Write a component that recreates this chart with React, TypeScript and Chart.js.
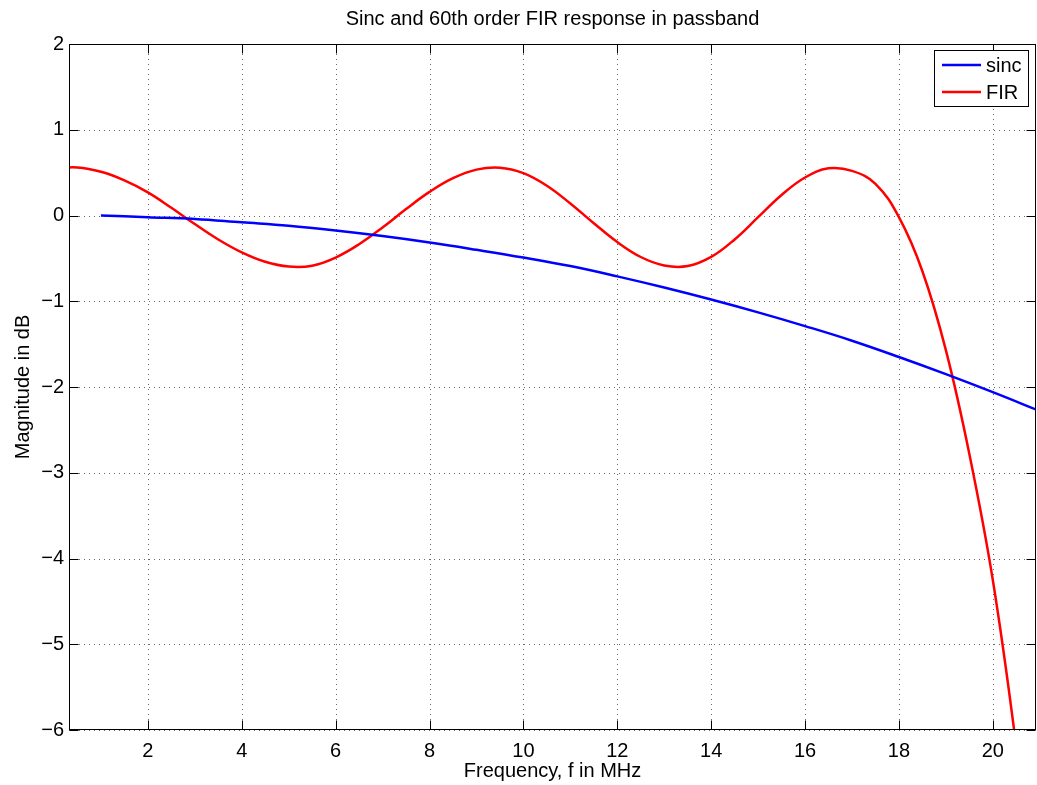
import React, { useEffect, useRef } from "react";
import { Chart, registerables } from "chart.js";

Chart.register(...registerables);

const titleText = "Sinc and 60th order FIR response in passband";
const xTitle = "Frequency, f in MHz";
const yTitle = "Magnitude in dB";

const xTicks = [2, 4, 6, 8, 10, 12, 14, 16, 18, 20];
const yTicks = [-6, -5, -4, -3, -2, -1, 0, 1, 2];

const sincFreq = [1, 2, 3, 4, 5, 6, 7, 8, 9, 10, 11, 12, 13, 14, 15, 16, 17, 18, 19, 20, 21];
const sincDb = [0.0, -0.02, -0.04, -0.08, -0.12, -0.175, -0.24, -0.315, -0.4, -0.49, -0.59, -0.71, -0.84, -0.98, -1.13, -1.29, -1.46, -1.65, -1.85, -2.06, -2.28];

const firFreq = [0, 0.5, 1, 1.5, 2, 2.5, 3, 3.5, 4, 4.5, 5, 5.5, 6, 6.5, 7, 7.5, 8, 8.5, 9, 9.5, 10, 10.5, 11, 11.5, 12, 12.5, 13, 13.5, 14, 14.5, 15, 15.5, 16, 16.5, 17, 17.5, 18, 18.5, 19, 19.5, 20, 20.5, 21];
const firDb = [0.55, 0.56, 0.51, 0.41, 0.27, 0.09, -0.1, -0.28, -0.43, -0.54, -0.595, -0.585, -0.49, -0.335, -0.14, 0.075, 0.275, 0.435, 0.535, 0.558, 0.494, 0.347, 0.14, -0.09, -0.31, -0.484, -0.583, -0.59, -0.483, -0.279, -0.02, 0.239, 0.443, 0.55, 0.52, 0.37, -0.02, -0.65, -1.57, -2.78, -4.25, -6.2, -8.6];

const seriesNames = ["sinc", "FIR"];
const seriesColors = ["#0000ff", "#ff0000"];

const FONT = "'Liberation Sans', Arial, Helvetica, sans-serif";

const decorPlugin = {
  id: "decor",
  beforeDatasetsDraw(chart: any) {
    const { ctx, chartArea: a, scales } = chart;
    const xs = scales.x;
    const ys = scales.y;
    ctx.save();
    ctx.strokeStyle = "#6a6a6a";
    ctx.lineWidth = 1;
    ctx.setLineDash([1, 4]);
    for (const v of xTicks) {
      const px = Math.round(xs.getPixelForValue(v)) + 0.5;
      ctx.beginPath();
      ctx.moveTo(px, a.top);
      ctx.lineTo(px, a.bottom);
      ctx.stroke();
    }
    for (const v of yTicks) {
      const py = Math.round(ys.getPixelForValue(v)) + 0.5;
      ctx.beginPath();
      ctx.moveTo(a.left, py);
      ctx.lineTo(a.right, py);
      ctx.stroke();
    }
    ctx.restore();
  },
  afterDatasetsDraw(chart: any) {
    const { ctx, chartArea: a, scales } = chart;
    const xs = scales.x;
    const ys = scales.y;
    ctx.save();
    ctx.setLineDash([]);
    ctx.strokeStyle = "#000";
    ctx.lineWidth = 1;
    const L = Math.round(a.left) + 0.5;
    const R = Math.round(a.right) - 0.5;
    const T = Math.round(a.top) + 0.5;
    const B = Math.round(a.bottom) - 0.5;
    ctx.strokeRect(L, T, R - L, B - T);
    const tl = 9;
    ctx.beginPath();
    for (const v of xTicks) {
      const px = Math.round(xs.getPixelForValue(v)) + 0.5;
      ctx.moveTo(px, B);
      ctx.lineTo(px, B - tl);
      ctx.moveTo(px, T);
      ctx.lineTo(px, T + tl);
    }
    for (const v of yTicks) {
      const py = Math.round(ys.getPixelForValue(v)) + 0.5;
      ctx.moveTo(L, py);
      ctx.lineTo(L + tl, py);
      ctx.moveTo(R, py);
      ctx.lineTo(R - tl, py);
    }
    ctx.stroke();

    // title and axis titles
    ctx.fillStyle = "#000";
    ctx.font = `20px ${FONT}`;
    ctx.textAlign = "center";
    ctx.textBaseline = "alphabetic";
    const cx = (a.left + a.right) / 2;
    ctx.fillText(titleText, cx, 25);
    ctx.fillText(xTitle, cx, 777);
    ctx.save();
    ctx.translate(29, (a.top + a.bottom) / 2);
    ctx.rotate(-Math.PI / 2);
    ctx.fillText(yTitle, 0, 0);
    ctx.restore();

    // legend
    const bx = 934.5, by = 50.5, bw = 94, bh = 56;
    ctx.fillStyle = "#fff";
    ctx.fillRect(bx, by, bw, bh);
    ctx.strokeStyle = "#000";
    ctx.lineWidth = 1;
    ctx.strokeRect(bx, by, bw, bh);
    const rows = [65, 92];
    seriesNames.forEach((name, i) => {
      ctx.strokeStyle = seriesColors[i];
      ctx.lineWidth = 2.5;
      ctx.beginPath();
      ctx.moveTo(942, rows[i]);
      ctx.lineTo(981, rows[i]);
      ctx.stroke();
      ctx.fillStyle = "#000";
      ctx.textAlign = "left";
      ctx.textBaseline = "middle";
      ctx.font = `20px ${FONT}`;
      ctx.fillText(name, 986, rows[i] + 1);
    });
    ctx.restore();
  },
};

export default function App() {
  const ref = useRef<HTMLCanvasElement | null>(null);
  useEffect(() => {
    document.body.style.margin = "0";
    const canvas = ref.current!;
    const chart = new Chart(canvas, {
      type: "line",
      data: {
        datasets: [
          {
            label: seriesNames[0],
            data: sincFreq.map((f, i) => ({ x: f, y: sincDb[i] })),
            borderColor: seriesColors[0],
            borderWidth: 2.5,
            pointRadius: 0,
            tension: 0.4,
            fill: false,
          },
          {
            label: seriesNames[1],
            data: firFreq.map((f, i) => ({ x: f, y: firDb[i] })),
            borderColor: seriesColors[1],
            borderWidth: 2.5,
            pointRadius: 0,
            tension: 0.4,
            fill: false,
          },
        ],
      },
      options: {
        responsive: false,
        animation: false,
        events: [],
        layout: { padding: { top: 44, right: 1, left: 0, bottom: 0 } },
        plugins: {
          legend: { display: false },
          title: { display: false },
          tooltip: { enabled: false },
        },
        scales: {
          x: {
            type: "linear",
            min: 0.32,
            max: 20.92,
            grid: { display: false, drawTicks: false },
            border: { display: false },
            afterBuildTicks: (s: any) => {
              s.ticks = xTicks.map((v) => ({ value: v }));
            },
            afterFit: (s: any) => {
              s.height = 55;
            },
            ticks: {
              color: "#000",
              padding: 9,
              maxRotation: 0,
              autoSkip: false,
              font: { family: FONT, size: 20 },
              callback: (v: any) => String(v),
            },
          },
          y: {
            type: "linear",
            min: -6,
            max: 2,
            grid: { display: false, drawTicks: false },
            border: { display: false },
            afterBuildTicks: (s: any) => {
              s.ticks = yTicks.map((v) => ({ value: v }));
            },
            afterFit: (s: any) => {
              s.width = 69;
            },
            ticks: {
              color: "#000",
              padding: 5,
              autoSkip: false,
              font: { family: FONT, size: 20 },
              callback: (v: any) => String(v).replace("-", "\u2212"),
            },
          },
        },
      },
      plugins: [decorPlugin],
    });
    return () => chart.destroy();
  }, []);
  return (
    <div style={{ width: 1037, height: 785, background: "#fff" }}>
      <canvas ref={ref} width={1037} height={785} style={{ display: "block" }} />
    </div>
  );
}
